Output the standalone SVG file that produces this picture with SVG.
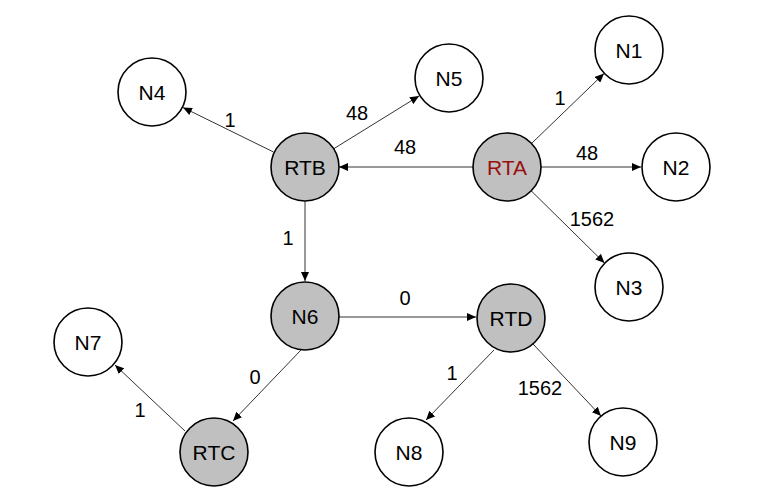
<svg xmlns="http://www.w3.org/2000/svg" width="777" height="498" viewBox="0 0 777 498">
<defs>
<style>
.n{fill:#ffffff;stroke:#000;stroke-width:1.6}
.g{fill:#c0c0c0;stroke:#000;stroke-width:1.6}
.t{font-family:"Liberation Sans",Arial,sans-serif;font-size:21px;fill:#000;text-anchor:middle;dominant-baseline:central}
.e{stroke:#333;stroke-width:1;fill:none;marker-end:url(#ah)}
.l{font-family:"Liberation Sans",Arial,sans-serif;font-size:20px;fill:#000;text-anchor:middle;dominant-baseline:central}
</style>
<marker id="ah" markerUnits="userSpaceOnUse" markerWidth="10" markerHeight="8" refX="9" refY="4" orient="auto">
<path d="M0,0 L9,4 L0,8 Z" fill="#000"/>
</marker>
</defs>
<rect width="777" height="498" fill="#fff"/>
<g id="connectors">
<line class="e" x1="473" y1="167" x2="339" y2="167"/>
<line class="e" x1="531.5" y1="143.5" x2="604" y2="73.5"/>
<line class="e" x1="541" y1="167" x2="641" y2="167"/>
<line class="e" x1="531.2" y1="190.8" x2="604.5" y2="263"/>
<line class="e" x1="273.5" y1="152" x2="183" y2="107.5"/>
<line class="e" x1="333" y1="149.2" x2="419" y2="96"/>
<line class="e" x1="305" y1="201" x2="305" y2="281"/>
<line class="e" x1="339" y1="317" x2="476" y2="317"/>
<line class="e" x1="301" y1="350" x2="233" y2="421"/>
<line class="e" x1="185" y1="431" x2="115" y2="365"/>
<line class="e" x1="494" y1="350" x2="426" y2="420"/>
<line class="e" x1="533" y1="344" x2="601" y2="416"/>
<text class="l" x="405" y="147">48</text>
<text class="l" x="560" y="98">1</text>
<text class="l" x="587" y="153">48</text>
<text class="l" x="592" y="219">1562</text>
<text class="l" x="230" y="120">1</text>
<text class="l" x="357" y="113">48</text>
<text class="l" x="288" y="238">1</text>
<text class="l" x="405" y="298">0</text>
<text class="l" x="255" y="377">0</text>
<text class="l" x="140" y="410">1</text>
<text class="l" x="452" y="373">1</text>
<text class="l" x="540" y="388">1562</text>
</g>
<g id="RTA"><circle class="g" cx="507" cy="167" r="34"/><text class="t" x="507" y="167" style="fill:#9b0f0f">RTA</text></g>
<g id="RTB"><circle class="g" cx="305" cy="167" r="34"/><text class="t" x="305" y="167">RTB</text></g>
<g id="RTC"><circle class="g" cx="214" cy="452" r="34"/><text class="t" x="214" y="452">RTC</text></g>
<g id="RTD"><circle class="g" cx="511" cy="318" r="34"/><text class="t" x="511" y="318">RTD</text></g>
<g id="N6"><circle class="g" cx="305" cy="316" r="34"/><text class="t" x="305" y="316">N6</text></g>
<g id="N1"><circle class="n" cx="629" cy="50" r="34"/><text class="t" x="629" y="50">N1</text></g>
<g id="N2"><circle class="n" cx="676" cy="167" r="34"/><text class="t" x="676" y="167">N2</text></g>
<g id="N3"><circle class="n" cx="629" cy="287" r="34"/><text class="t" x="629" y="287">N3</text></g>
<g id="N4"><circle class="n" cx="152" cy="92" r="34"/><text class="t" x="152" y="92">N4</text></g>
<g id="N5"><circle class="n" cx="449" cy="78" r="34"/><text class="t" x="449" y="78">N5</text></g>
<g id="N7"><circle class="n" cx="88" cy="342" r="34"/><text class="t" x="88" y="342">N7</text></g>
<g id="N8"><circle class="n" cx="409" cy="452" r="34"/><text class="t" x="409" y="452">N8</text></g>
<g id="N9"><circle class="n" cx="623" cy="442" r="34"/><text class="t" x="623" y="442">N9</text></g>
</svg>
